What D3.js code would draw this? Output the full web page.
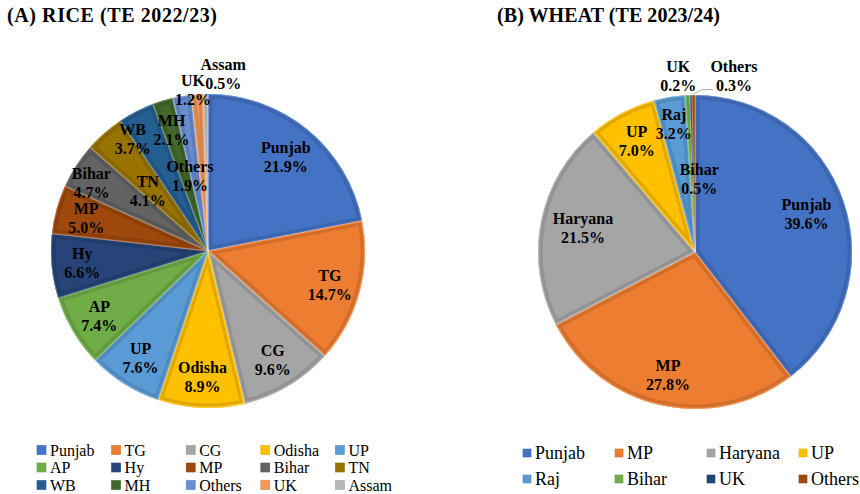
<!DOCTYPE html>
<html>
<head>
<meta charset="utf-8">
<script src="https://cdn.jsdelivr.net/npm/d3@7"></script>
<style>
  html, body { margin: 0; padding: 0; background: #fff; }
  svg { display: block; }
  svg text { font-family: "Liberation Serif", "Times New Roman", Times, serif; }
</style>
</head>
<body>
<svg id="chart" width="860" height="494"></svg>
<script>
// ---------- DATA ----------
const riceTitle = "(A) RICE (TE 2022/23)";
const riceCategories = ["Punjab", "TG", "CG", "Odisha", "UP", "AP", "Hy", "MP", "Bihar", "TN", "WB", "MH", "Others", "UK", "Assam"];
const riceValues = [21.9, 14.7, 9.6, 8.9, 7.6, 7.4, 6.6, 5.0, 4.7, 4.1, 3.7, 2.1, 1.9, 1.2, 0.5];
const riceColors = ["#4472C4", "#ED7D31", "#A5A5A5", "#FFC000", "#5B9BD5", "#70AD47", "#264478", "#9E480E", "#636363", "#997300", "#255E91", "#43682B", "#698ED0", "#F1975A", "#B7B7B7"];

const wheatTitle = "(B) WHEAT (TE 2023/24)";
const wheatCategories = ["Punjab", "MP", "Haryana", "UP", "Raj", "Bihar", "UK", "Others"];
const wheatValues = [39.6, 27.8, 21.5, 7.0, 3.2, 0.5, 0.2, 0.3];
const wheatColors = ["#4472C4", "#ED7D31", "#A5A5A5", "#FFC000", "#5B9BD5", "#70AD47", "#264478", "#9E480E"];

// label placement tweaks (radius as fraction of pie radius, angle nudge in degrees)
const riceLabelPlacement = {
  Punjab: { r: 0.78 }, Bihar: { r: 0.86, da: -2.6 }, TN: { r: 0.54, da: -4 },
  WB: { r: 0.86, da: -6.7 }, Others: { r: 0.49, da: -4 },
  UK: { r: 1.03, da: -1.4 }, Assam: { r: 1.13, da: 5.8 }
};
const wheatLabelPlacement = {
  Punjab: { r: 0.75 }, Haryana: { r: 0.73, da: 1 }, Raj: { r: 0.83 },
  Bihar: { r: 0.465, da: 6 }, UK: { r: 1.13, da: -4 }, Others: { r: 1.15, da: 13, leader: true }
};

const FONT = "'Liberation Serif', 'Times New Roman', Times, serif";

// ---------- DRAW ----------
const svg = d3.select("#chart");
let clipCount = 0;

function drawPie(cfg) {
  const g = svg.append("g").attr("transform", `translate(${cfg.cx},${cfg.cy})`);
  const data = cfg.categories.map((c, i) => ({ name: c, value: cfg.values[i], color: cfg.colors[i] }));
  const pie = d3.pie().value(d => d.value).sort(null);
  const arcs = pie(data);
  const arc = d3.arc().innerRadius(0).outerRadius(cfg.r);

  const slices = g.selectAll("g.slice").data(arcs).join("g").attr("class", "slice");
  slices.each(function (d) {
    const id = "clip" + (clipCount++);
    const sg = d3.select(this);
    sg.append("clipPath").attr("id", id).append("path").attr("d", arc(d));
    sg.append("path").attr("d", arc(d)).attr("fill", d.data.color);
    const inner = sg.append("g").attr("clip-path", `url(#${id})`);
    inner.append("path").attr("d", arc(d)).attr("fill", "none")
      .attr("stroke", d3.color(d.data.color).darker(0.35)).attr("stroke-width", 9).attr("stroke-linejoin", "round");
    inner.append("path").attr("d", arc(d)).attr("fill", "none")
      .attr("stroke", d.data.color).attr("stroke-width", 3).attr("stroke-linejoin", "round");
    sg.append("path").attr("d", arc(d)).attr("fill", "none")
      .attr("stroke", "#ffffff").attr("stroke-opacity", 0.45).attr("stroke-width", 0.75);
  });

  // labels
  arcs.forEach(d => {
    const p = cfg.placement[d.data.name] || {};
    const rf = p.r !== undefined ? p.r : cfg.defaultLabelR;
    const ang = (d.startAngle + d.endAngle) / 2 + (p.da || 0) * Math.PI / 180;
    const lx = Math.sin(ang) * cfg.r * rf;
    const ly = -Math.cos(ang) * cfg.r * rf;
    if (p.leader) {
      const mid = (d.startAngle + d.endAngle) / 2;
      const ax = Math.sin(mid) * (cfg.r + 1), ay = -Math.cos(mid) * (cfg.r + 1);
      g.append("polyline")
        .attr("points", [[ax, ay], [ax + 8, ly + 14], [lx - 21, ly + 14]].map(q => q.join(",")).join(" "))
        .attr("fill", "none").attr("stroke", "#a6a6a6").attr("stroke-width", 1);
    }
    const t = g.append("text").attr("text-anchor", "middle").attr("font-family", FONT)
      .attr("font-weight", "bold").attr("font-size", 16).attr("fill", "#000");
    t.append("tspan").attr("x", lx).attr("y", ly - 9.5).attr("dy", "0.35em").text(d.data.name);
    t.append("tspan").attr("x", lx).attr("y", ly + 9.5).attr("dy", "0.35em").text(d3.format(".1f")(d.data.value) + "%");
  });

  // title
  svg.append("text").attr("x", cfg.titleX).attr("y", cfg.titleY).attr("font-family", FONT)
    .attr("font-weight", "bold").attr("font-size", 20)
    .attr("textLength", cfg.titleLen).attr("lengthAdjust", "spacing")
    .text(cfg.title);

  // legend
  const lg = svg.append("g");
  data.forEach((d, i) => {
    const col = i % cfg.legendCols, row = Math.floor(i / cfg.legendCols);
    const x = cfg.legendX + col * cfg.legendDx, y = cfg.legendY + row * cfg.legendDy;
    lg.append("rect").attr("x", x).attr("y", y - cfg.sq / 2).attr("width", cfg.sq).attr("height", cfg.sq)
      .attr("fill", d.color).attr("stroke", d3.color(d.color).darker(0.3)).attr("stroke-width", 0.6);
    lg.append("text").attr("x", x + cfg.sq + 4).attr("y", y).attr("dy", "0.35em").attr("font-family", FONT)
      .attr("font-size", cfg.legendFont).attr("fill", "#000").text(d.name);
  });
}

drawPie({
  title: riceTitle, titleX: 7, titleY: 22, titleLen: 210,
  categories: riceCategories, values: riceValues, colors: riceColors,
  cx: 208, cy: 251, r: 157, defaultLabelR: 0.805, placement: riceLabelPlacement,
  legendCols: 5, legendX: 37, legendDx: 74.6, legendY: 450, legendDy: 17.5, sq: 9, legendFont: 16
});

drawPie({
  title: wheatTitle, titleX: 497, titleY: 22, titleLen: 223,
  categories: wheatCategories, values: wheatValues, colors: wheatColors,
  cx: 695, cy: 252, r: 157, defaultLabelR: 0.8, placement: wheatLabelPlacement,
  legendCols: 4, legendX: 523, legendDx: 92, legendY: 453, legendDy: 26, sq: 8, legendFont: 18
});
</script>
</body>
</html>
